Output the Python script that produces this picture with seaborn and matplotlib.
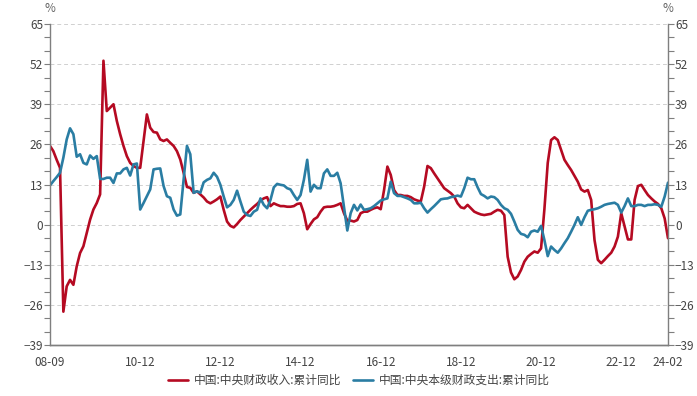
import numpy as np
import pandas as pd
import seaborn as sns
from matplotlib import pyplot as plt
from matplotlib.ticker import MultipleLocator


months = pd.period_range("2008-09", "2024-02", freq="M")

# 中国:中央财政收入:累计同比 (%)
revenue = [
    25.5, 23.8, 21.0, 18.4, -28.2, -20.0, -17.9, -19.5, -13.5, -9.2, -7.0, -2.7,
    1.6, 4.9, 7.0, 9.8, 53.1, 36.8, 37.9, 39.0, 33.6, 29.3, 25.5, 22.2,
    20.0, 19.0, 18.4, 18.4, 27.0, 35.7, 31.4, 30.0, 29.8, 27.6, 27.1, 27.6,
    26.5, 25.5, 23.8, 21.1, 16.8, 12.2, 11.9, 10.3, 10.8, 9.8, 8.8, 7.5,
    6.9, 7.5, 8.2, 9.1, 4.8, 1.0, -0.4, -0.9, 0.2, 1.5, 2.6, 3.7,
    4.8, 5.8, 6.7, 7.8, 8.5, 8.9, 6.0, 6.9, 6.4, 6.0, 6.0, 5.8,
    5.8, 6.0, 6.7, 6.9, 3.7, -1.5, 0.2, 1.7, 2.4, 4.2, 5.6, 5.8,
    5.8, 6.0, 6.4, 6.9, 3.7, 1.3, 1.3, 1.0, 1.5, 3.7, 4.2, 4.2,
    4.8, 5.3, 5.6, 5.0, 11.2, 18.8, 16.1, 11.2, 9.6, 9.6, 9.3, 9.3,
    8.9, 8.2, 7.8, 7.5, 12.3, 19.0, 18.3, 16.6, 15.0, 13.4, 11.8, 11.0,
    10.2, 9.1, 6.9, 5.6, 5.3, 6.4, 5.3, 4.2, 3.7, 3.3, 3.1, 3.3,
    3.5, 4.2, 4.8, 4.5, 3.1, -10.4, -15.5, -17.7, -16.8, -14.7, -12.0, -10.4,
    -9.5, -8.7, -9.1, -7.7, 5.0, 20.0, 27.4, 28.3, 27.4, 24.2, 21.0, 19.3,
    17.7, 15.8, 13.9, 11.4, 10.7, 11.2, 8.0, -5.0, -11.4, -12.5, -11.4, -10.2,
    -9.1, -7.1, -3.9, 3.7, -0.6, -4.8, -4.8, 8.0, 12.5, 12.9, 11.2, 9.6,
    8.5, 7.5, 6.7, 5.3, 2.0, -4.4,
]

# 中国:中央本级财政支出:累计同比 (%)
expenditure = [
    12.7, 14.1, 15.4, 16.8, 21.7, 27.6, 31.2, 29.3, 22.0, 22.8, 20.0, 19.5,
    22.4, 21.3, 22.2, 14.8, 14.8, 15.2, 15.2, 13.5, 16.6, 16.6, 17.9, 18.4,
    15.9, 19.5, 19.8, 4.9, 7.0, 9.2, 11.4, 17.9, 18.1, 18.2, 12.5, 9.2,
    8.7, 4.9, 2.9, 3.3, 14.6, 25.5, 22.8, 10.3, 10.8, 10.3, 13.7, 14.5,
    15.0, 16.8, 15.5, 12.9, 9.1, 5.6, 6.4, 8.0, 11.0, 7.5, 4.2, 3.1,
    2.8, 4.2, 4.8, 8.5, 6.4, 5.3, 8.0, 12.1, 13.2, 12.9, 12.7, 11.8,
    11.4, 9.6, 8.0, 9.6, 14.5, 21.0, 10.7, 12.9, 11.8, 11.8, 16.6, 17.9,
    15.8, 15.8, 16.8, 13.4, 5.8, -1.9, 3.7, 6.4, 4.6, 6.5, 4.8, 5.0,
    5.3, 6.0, 6.9, 7.8, 8.2, 8.5, 13.9, 10.2, 9.3, 9.3, 8.9, 8.5,
    8.0, 6.9, 6.9, 7.1, 5.3, 3.9, 5.0, 6.0, 7.1, 8.2, 8.4, 8.5,
    8.9, 9.1, 9.4, 9.1, 11.8, 15.2, 14.7, 14.7, 12.1, 9.9, 9.3, 8.5,
    9.1, 8.9, 8.0, 6.4, 5.3, 4.8, 3.5, 1.0, -1.7, -3.0, -3.3, -4.1,
    -2.3, -1.9, -2.3, -0.4, -5.0, -10.2, -7.1, -8.2, -9.1, -7.7, -6.0, -4.4,
    -2.3, -0.1, 2.4, -0.1, 2.4, 4.5, 4.8, 5.0, 5.3, 5.8, 6.4, 6.7,
    6.9, 7.1, 6.4, 3.9, 6.0, 8.5, 6.0, 6.0, 6.4, 6.4, 6.0, 6.4,
    6.4, 6.6, 6.4, 5.8, 9.1, 13.6,
]

series_names = ["中国:中央财政收入:累计同比", "中国:中央本级财政支出:累计同比"]
series_colors = ["#B50A22", "#2A7DA3"]

label_months = ["2008-09", "2010-12", "2012-12", "2014-12", "2016-12",
                "2018-12", "2020-12", "2022-12", "2024-02"]
label_texts = ["08-09", "10-12", "12-12", "14-12", "16-12",
               "18-12", "20-12", "22-12", "24-02"]
y_ticks = [-39, -26, -13, 0, 13, 26, 39, 52, 65]


def build_frame():
    month_str = months.strftime("%Y-%m")
    df = pd.DataFrame({
        "month": month_str,
        "pos": np.arange(len(months)),
        series_names[0]: revenue,
        series_names[1]: expenditure,
    })
    long = df.melt(id_vars=["month", "pos"], value_vars=series_names,
                   var_name="series", value_name="value")
    return df, long


def main():
    sns.set_theme(style="white")
    plt.rcParams["font.family"] = ["Noto Sans CJK SC", "DejaVu Sans"]
    text_color = "#444444"
    axis_color = "#7f7f7f"

    df, long = build_frame()
    pos_of = dict(zip(df["month"], df["pos"]))

    fig = plt.figure(figsize=(6.97, 3.96), dpi=100)
    ax = fig.add_axes([50 / 697, 1 - 345 / 396, 618 / 697, 321 / 396])

    sns.lineplot(data=long, x="pos", y="value", hue="series",
                 hue_order=series_names,
                 palette=dict(zip(series_names, series_colors)),
                 linewidth=1.9, ax=ax)

    ax.set_xlim(0, len(months) - 1)
    ax.set_ylim(-39, 65)
    ax.set_xlabel("")
    ax.set_ylabel("")

    # december ticks every year, labels every other year plus both ends
    dec_pos = [p for m, p in pos_of.items() if m.endswith("-12")]
    ax.set_xticks(dec_pos, minor=True)
    ax.set_xticks([pos_of[m] for m in label_months])
    ax.set_xticklabels(label_texts)

    ax.set_yticks(y_ticks)
    ax.yaxis.set_minor_locator(MultipleLocator(13 / 3))
    ax.grid(axis="y", which="major", color="#d0d0d0", linestyle=(0, (4, 3)),
            linewidth=0.7)
    ax.grid(axis="x", visible=False)

    ax2 = ax.twinx()
    ax2.set_ylim(-39, 65)
    ax2.set_yticks(y_ticks)
    ax2.yaxis.set_minor_locator(MultipleLocator(13 / 3))
    ax2.grid(False)

    for a in (ax, ax2):
        a.spines["top"].set_visible(False)
        for side in ("left", "right", "bottom"):
            a.spines[side].set_color(axis_color)
            a.spines[side].set_linewidth(1.0)
        a.tick_params(which="both", direction="out", length=4, width=0.8,
                      color=axis_color, labelcolor=text_color, labelsize=8.5)
        a.tick_params(axis="y", which="both", pad=1)
    ax.tick_params(axis="x", which="major", length=0, pad=8)
    ax.tick_params(axis="x", which="minor", length=4)
    ax.tick_params(axis="y", which="both", left=True)
    ax2.spines["left"].set_visible(False)
    ax.spines["right"].set_visible(False)

    fig.text(50 / 697, 1 - 8 / 396, "%", ha="center", va="center",
             fontsize=8.5, color="#666666")
    fig.text(668 / 697, 1 - 8 / 396, "%", ha="center", va="center",
             fontsize=8.5, color="#666666")

    sns.move_legend(ax, "center", bbox_to_anchor=(0.5, -0.11), ncol=2,
                    frameon=False, title=None, fontsize=8.5,
                    handlelength=1.7, columnspacing=1.0, handletextpad=0.5)
    for t in ax.get_legend().get_texts():
        t.set_color(text_color)

    fig.savefig("out.png", dpi=100)


if __name__ == "__main__":
    main()
